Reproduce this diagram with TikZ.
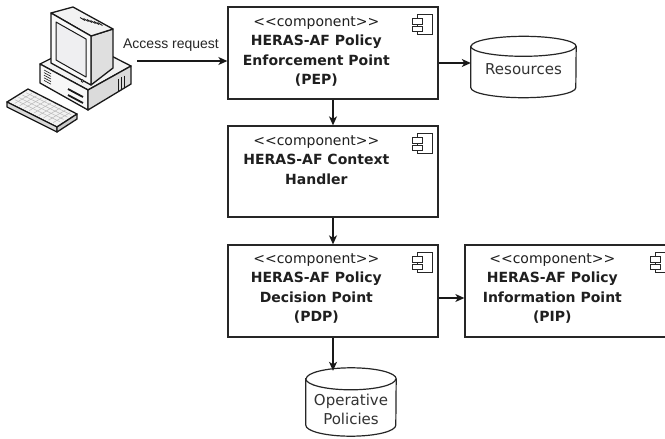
\documentclass[tikz,border=0pt]{standalone}
\usepackage{fontspec}
\setmainfont{DejaVu Sans}
\newfontfamily\labelfont{Liberation Sans}
\usetikzlibrary{arrows.meta,calc}

% stereotype text, kept apart so that << and >> stay plain characters
\newcommand\stereo{<\kern0pt<component>\kern0pt>}

% outline of a storage cylinder around a sized node: #1 node, #2 x radius, #3 y radius
\newcommand\cylinderoutline[3]{%
  \filldraw[store line]
    ([yshift=-#3]#1.north west) -- ([yshift=#3]#1.south west)
    arc[start angle=180, end angle=360, x radius=#2, y radius=#3]
    -- ([yshift=-#3]#1.north east)
    arc[start angle=0, end angle=180, x radius=#2, y radius=#3] -- cycle;
  \draw[store line]
    ([yshift=-#3]#1.north west)
    arc[start angle=180, end angle=360, x radius=#2, y radius=#3];}

\begin{document}
\begin{tikzpicture}[x=1pt, y=-1pt,
  comp/.style={draw=black!85, line width=1.3pt, fill=white,
    minimum width=210pt, minimum height=92pt, inner sep=0pt},
  comptext/.style={anchor=north, align=center, inner sep=0pt,
    font=\fontsize{14}{19.5}\selectfont, text=black!88},
  conn/.style={line width=1.2pt, draw=black!90,
    -{Stealth[length=9pt, width=8pt, inset=2.5pt]}},
  store line/.style={line width=1.2pt, draw=black!85, fill=white},
  storetext/.style={inner sep=0pt, align=center,
    font=\fontsize{15}{19}\selectfont, text=black!80},
  pc line/.style={line width=1.3pt, draw=black!90, line join=round},
  compicon/.pic={
    \draw[line width=1pt, draw=black!85, fill=white] (-21,8) rectangle (-6,28);
    \draw[line width=1pt, draw=black!85, fill=white] (-26,12) rectangle (-16,18);
    \draw[line width=1pt, draw=black!85, fill=white] (-26,20) rectangle (-16,25);
  }
]
\useasboundingbox (0,0) rectangle (665,439);
\clip (0,0) rectangle (665,439);

% ---------- workstation ----------
\begin{scope}[pc line]
  % keyboard
  \filldraw[fill=gray!10] (7,102) -- (28,89) -- (77,114) -- (57,127) -- cycle;
  \filldraw[fill=gray!30] (7,102) -- (57,127) -- (57,132) -- (7,107) -- cycle;
  \filldraw[fill=gray!40] (57,127) -- (77,114) -- (77,119) -- (57,132) -- cycle;
  \foreach \t in {0.2,0.4,0.6,0.8}
    \draw[line width=0.5pt, draw=gray!55] (11+19*\t,102-11.5*\t) -- (56+19*\t,124-11.5*\t);
  \foreach \s in {0.1,0.2,...,0.91}
    \draw[line width=0.5pt, draw=gray!55] (10+48*\s,101+24*\s) -- (27+48*\s,91+24*\s);
  % system unit
  \filldraw[fill=gray!10] (40,64) -- (88,90) -- (131,66) -- (84,42) -- cycle;
  \filldraw[fill=gray!6] (40,64) -- (88,90) -- (88,110) -- (40,83) -- cycle;
  \filldraw[fill=gray!28] (88,90) -- (131,66) -- (131,84) -- (88,110) -- cycle;
  \foreach \i in {0,...,4}
    \draw[line width=0.6pt] (44,70+2.6*\i) -- (51,73.8+2.6*\i);
  \draw[line width=1.8pt] (68,89) -- (83,97);
  \draw[line width=1.8pt] (68,95) -- (83,103);
  \foreach \i in {0,1,2}
    \draw[line width=0.6pt] (118+3*\i,79-1.7*\i) -- (118+3*\i,91-1.7*\i);
  % monitor
  \filldraw[fill=gray!25] (91,36) -- (113,29) -- (113,68) -- (91,85) -- cycle;
  \filldraw[fill=gray!10] (51,13) -- (91,36) -- (113,29) -- (73,7) -- cycle;
  \foreach \i in {0,...,5}
    \draw[line width=0.9pt] (85+3.5*\i,20.5+1*\i) -- (80+3.5*\i,17.5+1*\i);
  \filldraw[fill=gray!5] (51,13) -- (91,36) -- (91,85) -- (51,63) -- cycle;
  \filldraw[line width=1pt, fill=blue!6!gray!12] (56,22) -- (86,39) -- (86,77) -- (56,60) -- cycle;
  \filldraw[line width=0.6pt, fill=gray!40] (82.5,81) circle (1.4);
\end{scope}
\coordinate (pc) at (137,61);

% ---------- components ----------
\node[comp] (pep) at (333,53) {};
\node[comp, minimum height=91pt] (ch) at (333,171.5) {};
\node[comp] (pdp) at (333,291) {};
\node[comp, minimum width=211pt] (pip) at (570.5,291) {};

\foreach \b in {pep,ch,pdp,pip}
  \pic at (\b.north east) {compicon};

\node[comptext] (peptext) at ($(pep.north west)+(89,10)$)
  {\stereo\\\textbf{HERAS-AF Policy}\\\textbf{Enforcement Point}\\\textbf{(PEP)}};
\node[comptext] (chtext) at ($(ch.north west)+(89,10)$)
  {\stereo\\\textbf{HERAS-AF Context}\\\textbf{Handler}};
\node[comptext] (pdptext) at ($(pdp.north west)+(89,9)$)
  {\stereo\\\textbf{HERAS-AF Policy}\\\textbf{Decision Point}\\\textbf{(PDP)}};
\node[comptext] (piptext) at ($(pip.north west)+(88,9)$)
  {\stereo\\\textbf{HERAS-AF Policy}\\\textbf{Information Point}\\\textbf{(PIP)}};

% ---------- data stores ----------
\node[minimum width=105pt, minimum height=61pt, inner sep=0pt] (res) at (523.5,67) {};
\cylinderoutline{res}{52.5pt}{10pt}
\node[storetext] (restext) at (523.5,69) {Resources};

\node[minimum width=90pt, minimum height=68pt, inner sep=0pt] (pol) at (351,402) {};
\cylinderoutline{pol}{45pt}{11pt}
\node[storetext] (poltext) at (351,409) {Operative\\Policies};

% ---------- connectors ----------
\node[font=\labelfont\fontsize{14}{16}\selectfont, text=black!85, inner sep=0pt]
  (acc) at (171,45) {Access request};
\draw[conn] (pc) -- (pc -| pep.west);
\draw[conn] ([yshift=-10pt]pep.east) -- ([yshift=-10pt]pep.east -| res.west);
\draw[conn] (pep.south) -- (ch.north);
\draw[conn] (ch.south) -- (pdp.north);
\draw[conn] ([yshift=-7pt]pdp.east) -- ([yshift=-7pt]pdp.east -| pip.west);
\draw[conn] (pdp.south) -- ([yshift=-3pt]pdp.south |- pol.north);
\end{tikzpicture}
\end{document}
